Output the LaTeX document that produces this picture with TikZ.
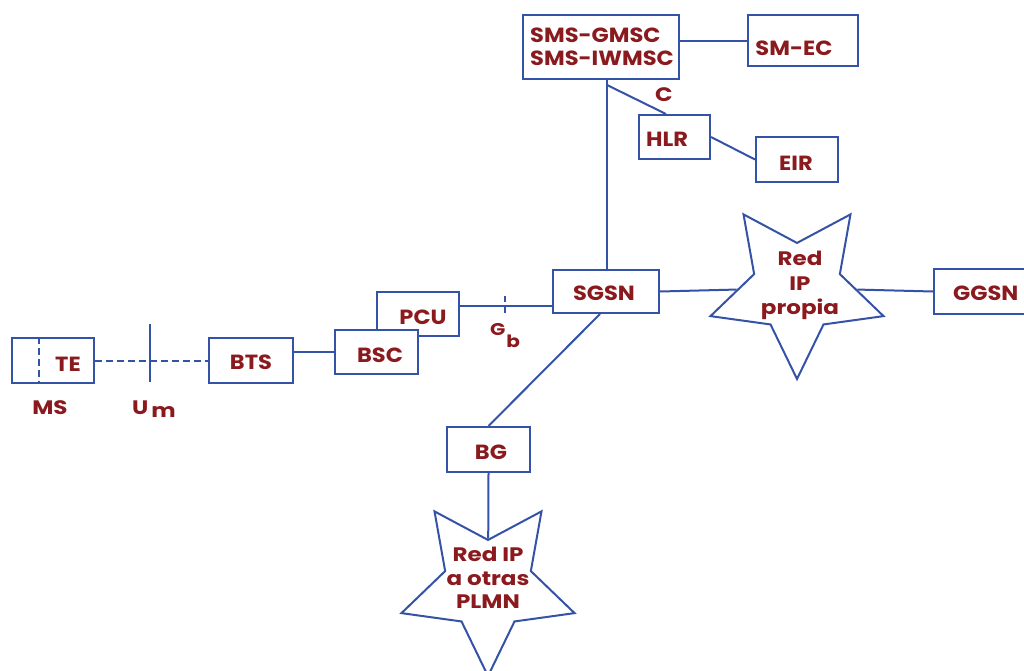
\documentclass[tikz,border=0pt]{standalone}
\usepackage{fontspec}
\newfontfamily\netfont{Poppins}[FakeStretch=1.1]
\newfontfamily\tagfamily{Poppins}[FakeStretch=1.18]
\usetikzlibrary{shapes.geometric}
\definecolor{netblue}{HTML}{3553A6}
\definecolor{netred}{HTML}{8B1A1E}
\newcommand{\boxfont}{\netfont\bfseries\fontsize{20.5}{24}\selectfont}
\newcommand{\tagfont}{\tagfamily\bfseries\fontsize{19.5}{23}\selectfont}
\tikzset{
  unit/.style={rectangle, draw=netblue, line width=2pt, fill=white, inner sep=0pt},
  link/.style={draw=netblue, line width=2pt},
  radio/.style={draw=netblue, line width=2pt, dash pattern=on 7pt off 4pt},
  boxtext/.style={text=netred, font=\boxfont, inner sep=0pt, anchor=base},
  tagtext/.style={text=netred, font=\tagfont, inner sep=0pt, anchor=base},
  ipnet/.style={star, star points=5, star point ratio=2.02, shape border rotate=180,
    draw=netblue, line width=2pt, fill=white, inner sep=0pt, minimum size=182pt},
}
\begin{document}
\begin{tikzpicture}[x=1pt,y=-1pt]
\useasboundingbox (0,0) rectangle (1024,671);

% network elements
\node[unit, minimum width=82pt, minimum height=45pt] (ms) at (53,360.5) {};
\node[unit, minimum width=84pt, minimum height=45pt] (bts) at (251,360.5) {};
\node[unit, minimum width=82pt, minimum height=44pt] (pcu) at (418,314) {};
\node[unit, minimum width=83pt, minimum height=44pt] (bsc) at (376.5,352) {};
\node[unit, minimum width=106pt, minimum height=43pt] (sgsn) at (606,291.5) {};
\node[unit, minimum width=156pt, minimum height=64pt] (sms) at (601,47) {};
\node[unit, minimum width=110pt, minimum height=51pt] (smec) at (803,40.5) {};
\node[unit, minimum width=71pt, minimum height=44pt] (hlr) at (674.5,137) {};
\node[unit, minimum width=82pt, minimum height=45pt] (eir) at (797,159.5) {};
\node[unit, minimum width=140pt, minimum height=45pt] (ggsn) at (1004,291.5) {};
\node[unit, minimum width=83pt, minimum height=45pt] (bg) at (488.5,449.5) {};
\node[ipnet] (ipown) at (797,288) {};
\node[ipnet] (ipext) at (488,585) {};

% radio interface
\draw[radio] ([xshift=-14pt]ms.north) -- ([xshift=-14pt]ms.south);
\draw[radio] (ms.east) -- (bts.west);
\coordinate (um) at (150,324);
\draw[link] (um) -- ++(0,58);

% access and core links
\draw[link] (bts.east |- bsc.west) -- (bsc.west);
\coordinate (pcuout) at ([yshift=8pt]pcu.east);
\draw[link] (pcuout) -- (pcuout -| sgsn.west);
\coordinate (gb) at (505,306);
\draw[link, line width=1.5pt, dash pattern=on 6pt off 5pt] ([yshift=10pt]gb) -- ([yshift=-7pt]gb);
\coordinate (sgup) at ([xshift=1pt]sgsn.north);
\draw[link] (sgup) -- (sgup |- sms.south);
\coordinate (smsout) at ([yshift=6pt]sms.east);
\draw[link] (smsout) -- (smsout -| smec.west);
\coordinate (cfork) at ([xshift=6pt,yshift=-5pt]sms.south);
\draw[link] (cfork) -- ([xshift=-8.5pt]hlr.north);
\draw[link] (hlr.east) -- (eir.west);
\draw[link] (sgsn.east) -- (ipown);
\draw[link] (ipown) -- (ggsn.west);
\coordinate (sgdown) at ([xshift=-6pt]sgsn.south);
\draw[link] (sgdown) -- (bg.north);
\draw[link] (bg.south) -- (ipext);

% labels
\node[boxtext] (te-t) at (68,371.4) {TE};
\node[boxtext] (bts-t) at (251,369.4) {BTS};
\node[boxtext] (bsc-t) at (380,362.4) {BSC};
\node[boxtext] (pcu-t) at (423,324.4) {PCU};
\node[boxtext] (sgsn-t) at (604,300.4) {SGSN};
\node[boxtext, anchor=base west] (gmsc-t) at (530,42.4) {SMS-GMSC};
\node[boxtext, anchor=base west] (iwmsc-t) at (530,65.4) {SMS-IWMSC};
\node[boxtext] (smec-t) at (794,55.4) {SM-EC};
\node[boxtext] (hlr-t) at (667,146.4) {HLR};
\node[boxtext] (eir-t) at (796,170.4) {EIR};
\node[boxtext, anchor=base west] (ggsn-t) at (953,300.4) {GGSN};
\node[boxtext] (bg-t) at (491,459.4) {BG};

\node[tagtext] (ms-t) at (50,414.5) {MS};
\node[tagtext, anchor=base west] (um-t) at (132,414.5) {U\kern3pt\raisebox{-3pt}{m}};
\node[tagtext, anchor=base west, font=\tagfamily\bfseries\fontsize{17}{20}\selectfont] (gb-t) at (490,335.5) {G\kern1pt\raisebox{-12pt}{b}};
\node[tagtext] (c-t) at (664,101.5) {C};

\node[tagtext] (own1) at (800,265.5) {Red};
\node[tagtext] (own2) at (800,290.5) {IP};
\node[tagtext] (own3) at (800,314) {propia};
\node[tagtext] (ext1) at (488,561.5) {Red IP};
\node[tagtext] (ext2) at (488,585.5) {a otras};
\node[tagtext] (ext3) at (488,608.5) {PLMN};
\end{tikzpicture}
\end{document}
